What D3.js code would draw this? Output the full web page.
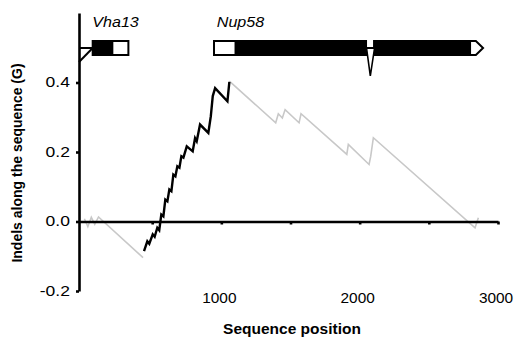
<!DOCTYPE html>
<html>
<head>
<meta charset="utf-8">
<script src="https://cdn.jsdelivr.net/npm/d3@7"></script>
<style>
body { margin: 0; background: #fff; }
text { font-family: "Liberation Sans", Arial, sans-serif; }
</style>
</head>
<body>
<script>
// cumulative indel measure G along the sequence
// grey = outside the coding block, black = inside
var greyStart = [[10,0.008],[35,-0.015],[60,0.012],[85,-0.008],[112,0.013],[434,-0.104]];
var blackPart = [[441,-0.085],[465,-0.057],[479,-0.064],[504,-0.037],[518,-0.044],[537,-0.018],
  [551,-0.025],[566,0.020],[581,0.015],[595,0.063],[610,0.058],[624,0.092],[639,0.087],
  [653,0.135],[668,0.130],[682,0.159],[697,0.155],[711,0.188],[726,0.184],[750,0.216],
  [793,0.202],[810,0.240],[822,0.231],[846,0.279],[906,0.255],[924,0.303],[938,0.361],
  [955,0.384],[1044,0.346],[1058,0.402]];
var greyEnd = [[1058,0.404],[1393,0.284],[1412,0.310],[1441,0.298],[1461,0.322],[1562,0.284],
  [1576,0.310],[1907,0.193],[1918,0.222],[2068,0.164],[2080,0.188],[2099,0.241],
  [2834,-0.018],[2858,0.011]];

var yTicks = [-0.2, 0, 0.2, 0.4];
var xTicks = [500, 1000, 1500, 2000, 2500, 3000];
var xLabels = [1000, 2000, 3000];

// gene models, sequence coordinates
var vhaExons = [[70,212,"cds"],[212,328,"utr"]];
var nupExons = [[947,1104,"utr"],[1104,2046,"cds"],[2104,2798,"cds"]];
var nupIntron = [2046, 2104];
var nupTail = [2798, 2840, 2892];
var intronTip = 2077;
var genes = [{name:"Vha13", at:67}, {name:"Nup58", at:967}];

var width = 517, height = 348;

var x = d3.scaleLinear().domain([-29, 3000]).range([79, 498]);
var y = d3.scaleLinear().domain([-0.2, 0.6]).range([291, 13]);

var svg = d3.select("body").append("svg")
    .attr("width", width)
    .attr("height", height);

// data lines
var line = d3.line()
    .x(function(d) { return x(d[0]); })
    .y(function(d) { return y(d[1]); });

svg.append("path").datum(greyStart)
    .attr("d", line).attr("fill", "none")
    .attr("stroke", "#c8c8c8").attr("stroke-width", 1.6);
svg.append("path").datum(greyEnd)
    .attr("d", line).attr("fill", "none")
    .attr("stroke", "#c8c8c8").attr("stroke-width", 1.6);
svg.append("path").datum(blackPart)
    .attr("d", line).attr("fill", "none")
    .attr("stroke", "#000").attr("stroke-width", 2.4)
    .attr("stroke-linejoin", "miter");

// y axis
var yAxis = svg.append("g")
    .attr("transform", "translate(" + x(-29) + ",0)")
    .call(d3.axisLeft(y).tickValues(yTicks).tickSize(3).tickSizeOuter(0)
      .tickFormat(function(d) { return d.toFixed(1); }));
yAxis.select(".domain").attr("stroke-width", 2.6);
yAxis.selectAll(".tick line").attr("stroke-width", 2.6);
yAxis.selectAll("text")
    .attr("x", -7.3)
    .attr("transform", "scale(1.25,1)")
    .attr("font-size", 14).attr("fill", "#000")
    .style("font-family", "'Liberation Sans', Arial, sans-serif");

// x axis along G = 0
var xAxis = svg.append("g")
    .attr("transform", "translate(0," + y(0) + ")")
    .call(d3.axisBottom(x).tickValues(xTicks).tickSize(3).tickSizeOuter(0).tickFormat(""));
xAxis.select(".domain").attr("stroke-width", 2.6);
xAxis.selectAll(".tick line").attr("stroke-width", 2.6);

svg.selectAll(".xlab").data(xLabels).enter().append("text")
    .attr("class", "xlab")
    .attr("transform", function(d) { return "translate(" + (x(d) - 2) + ",303) scale(1.1,1)"; })
    .attr("text-anchor", "middle")
    .attr("font-size", 14)
    .text(function(d) { return d; });

// axis titles
svg.append("text")
    .attr("transform", "translate(22,163) rotate(-90)")
    .attr("text-anchor", "middle")
    .attr("font-size", 14).attr("font-weight", "bold")
    .text("Indels along the sequence (G)");
svg.append("text")
    .attr("x", 292).attr("y", 334)
    .attr("text-anchor", "middle")
    .attr("font-size", 15.5).attr("font-weight", "bold")
    .text("Sequence position");

// gene track
var ty = 48, bh = 14;
var track = svg.append("g").attr("stroke", "#000").attr("stroke-width", 2);

track.append("line")
    .attr("x1", x(-29)).attr("x2", x(vhaExons[0][0]))
    .attr("y1", ty).attr("y2", ty);
track.append("line")
    .attr("x1", x(-29)).attr("x2", x(vhaExons[0][0]))
    .attr("y1", ty + bh).attr("y2", ty);

track.selectAll(".exon").data(vhaExons.concat(nupExons)).enter().append("rect")
    .attr("class", "exon")
    .attr("x", function(d) { return x(d[0]); })
    .attr("width", function(d) { return x(d[1]) - x(d[0]); })
    .attr("y", ty - bh / 2).attr("height", bh)
    .attr("fill", function(d) { return d[2] == "cds" ? "#000" : "#fff"; });

track.append("path")
    .attr("d", "M" + x(nupTail[0]) + "," + (ty - bh / 2) +
      "L" + x(nupTail[1]) + "," + (ty - bh / 2) +
      "L" + x(nupTail[2]) + "," + ty +
      "L" + x(nupTail[1]) + "," + (ty + bh / 2) +
      "L" + x(nupTail[0]) + "," + (ty + bh / 2) + "Z")
    .attr("fill", "#fff");

// splice mark under the intron
track.append("path")
    .attr("d", "M" + (x(nupIntron[0]) + 0.5) + "," + ty +
      "L" + x(intronTip) + "," + (ty + 28) +
      "L" + (x(nupIntron[1]) + 0.5) + "," + ty)
    .attr("fill", "#fff")
    .attr("stroke-width", 1.6)
    .attr("stroke-linejoin", "miter");
track.append("line")
    .attr("x1", x(nupIntron[0])).attr("x2", x(nupIntron[1]))
    .attr("y1", ty).attr("y2", ty);

svg.selectAll(".gene").data(genes).enter().append("text")
    .attr("class", "gene")
    .attr("transform", function(d) { return "translate(" + x(d.at) + ",27) scale(1.15,1)"; })
    .attr("font-size", 14).attr("font-style", "italic")
    .text(function(d) { return d.name; });
</script>
</body>
</html>
